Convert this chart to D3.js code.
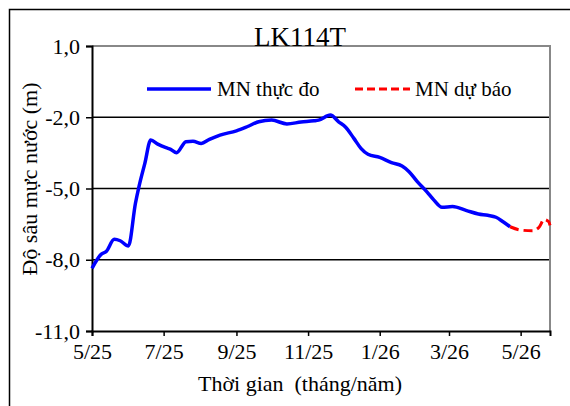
<!DOCTYPE html>
<html>
<head>
<meta charset="utf-8">
<script src="https://cdn.jsdelivr.net/npm/d3@7"></script>
<style>
  body { margin: 0; background: #fff; }
  text { font-family: "Liberation Serif", "Times New Roman", serif; fill: #000; }
</style>
</head>
<body>
<div id="chart"></div>
<script>
// Observed water level (MN thực đo)
const obsDates = ["2025-05-01","2025-05-09","2025-05-13","2025-05-20","2025-05-25","2025-06-01",
  "2025-06-07","2025-06-10","2025-06-15","2025-06-20","2025-06-26","2025-07-03","2025-07-07",
  "2025-07-12","2025-07-20","2025-07-26","2025-08-02","2025-08-09","2025-08-18","2025-09-01",
  "2025-09-10","2025-09-20","2025-10-01","2025-10-14","2025-10-26","2025-11-06","2025-11-10",
  "2025-11-20","2025-11-27","2025-12-03","2025-12-10","2025-12-16","2025-12-22","2026-01-01",
  "2026-01-11","2026-01-20","2026-01-26","2026-02-02","2026-02-10","2026-02-16","2026-02-23",
  "2026-03-04","2026-03-16","2026-03-26","2026-04-03","2026-04-10","2026-04-16","2026-04-22"];
const obsValues = [-8.36,-7.76,-7.66,-7.14,-7.2,-7.42,
  -5.62,-4.92,-3.94,-2.96,-3.13,-3.28,-3.35,
  -3.49,-3.03,-3.01,-3.10,-2.93,-2.75,-2.57,
  -2.40,-2.19,-2.12,-2.28,-2.2,-2.15,-2.12,
  -1.91,-2.19,-2.42,-2.89,-3.31,-3.56,-3.69,
  -3.91,-4.05,-4.29,-4.71,-5.13,-5.48,-5.79,
  -5.76,-5.93,-6.07,-6.13,-6.21,-6.40,-6.61];

// Forecast (MN dự báo)
const fcDates = ["2026-04-22","2026-05-01","2026-05-11","2026-05-17","2026-05-21","2026-05-25","2026-05-26"];
const fcValues = [-6.61,-6.75,-6.78,-6.61,-6.30,-6.40,-6.55];

const yTicks = [1, -2, -5, -8, -11];
const xTickLabels = ["5/25","7/25","9/25","11/25","1/26","3/26","5/26"];
const xTickDates = ["2025-05-01","2025-07-01","2025-09-01","2025-11-01","2026-01-01","2026-03-01","2026-05-01"];

const W = 570, H = 406;
const margin = {top: 46, right: 20, bottom: 75, left: 92};
const parse = d3.utcParse("%Y-%m-%d");

const svg = d3.select("#chart").append("svg")
  .attr("width", W).attr("height", H);

// outer frame
svg.append("rect")
  .attr("x", 9.5).attr("y", 9.5)
  .attr("width", W + 20).attr("height", H + 20)
  .attr("fill", "none").attr("stroke", "#000").attr("stroke-width", 1.5);

const x = d3.scaleUtc()
  .domain([parse("2025-05-01"), parse("2026-05-26")])
  .range([margin.left, W - margin.right]);
const y = d3.scaleLinear()
  .domain([-11, 1])
  .range([H - margin.bottom, margin.top]);

// gridlines
svg.append("g").selectAll("line")
  .data(yTicks.filter(d => d > -11 && d < 1))
  .join("line")
  .attr("x1", x.range()[0]).attr("x2", x.range()[1])
  .attr("y1", d => y(d)).attr("y2", d => y(d))
  .attr("stroke", "#000").attr("stroke-width", 1.5);

// top & right border (gray)
svg.append("path")
  .attr("d", `M${x.range()[0]},${y(1)}H${x.range()[1]}V${y(-11)}`)
  .attr("fill", "none").attr("stroke", "#888").attr("stroke-width", 2);

// y axis
const yAxis = svg.append("g")
  .attr("transform", `translate(${x.range()[0]},0)`)
  .call(d3.axisLeft(y).tickValues(yTicks).tickSize(6).tickPadding(6)
    .tickFormat(d => d3.format(".1f")(d).replace(".", ",").replace("−", "-")));
yAxis.select(".domain").attr("stroke", "#000").attr("stroke-width", 2);
yAxis.selectAll(".tick line").attr("stroke-width", 1.5);
yAxis.selectAll("text").style("font-size", "22px");

// x axis
const xAxis = svg.append("g")
  .attr("transform", `translate(0,${y(-11)})`)
  .call(d3.axisBottom(x).tickValues(xTickDates.map(parse)).tickSize(5).tickPadding(7)
    .tickFormat((d, i) => xTickLabels[i]));
xAxis.select(".domain").attr("stroke", "#000").attr("stroke-width", 2);
xAxis.selectAll(".tick line").attr("stroke-width", 1.5);
xAxis.selectAll("text").style("font-size", "22px");

const line = d3.line()
  .x(d => x(d[0]))
  .y(d => y(d[1]))
  .curve(d3.curveMonotoneX);

const obs = obsDates.map((d, i) => [parse(d), obsValues[i]]);
const fc = fcDates.map((d, i) => [parse(d), fcValues[i]]);

svg.append("path").datum(obs)
  .attr("d", line)
  .attr("fill", "none").attr("stroke", "#0000ff").attr("stroke-width", 3.5)
  .attr("stroke-linejoin", "round");

svg.append("path").datum(fc)
  .attr("d", line)
  .attr("fill", "none").attr("stroke", "#ff0000").attr("stroke-width", 3)
  .attr("stroke-dasharray", "9,5");

// legend
const legend = svg.append("g");
legend.append("line")
  .attr("x1", 147).attr("x2", 211).attr("y1", 89).attr("y2", 89)
  .attr("stroke", "#0000ff").attr("stroke-width", 3.5);
legend.append("text")
  .attr("x", 217).attr("y", 96)
  .style("font-size", "21px")
  .text("MN thực đo");
legend.append("line")
  .attr("x1", 355).attr("x2", 410).attr("y1", 89).attr("y2", 89)
  .attr("stroke", "#ff0000").attr("stroke-width", 3)
  .attr("stroke-dasharray", "8,4");
legend.append("text")
  .attr("x", 415).attr("y", 96)
  .style("font-size", "21px")
  .text("MN dự báo");

// title
svg.append("text")
  .attr("x", 300).attr("y", 46)
  .attr("text-anchor", "middle")
  .style("font-size", "27px")
  .text("LK114T");

// axis titles
svg.append("text")
  .attr("x", 300).attr("y", 391)
  .attr("text-anchor", "middle")
  .style("font-size", "22px")
  .style("white-space", "pre")
  .text("Thời gian  (tháng/năm)");

svg.append("text")
  .attr("transform", `translate(37,179) rotate(-90)`)
  .attr("text-anchor", "middle")
  .style("font-size", "22px")
  .text("Độ sâu mực nước (m)");
</script>
</body>
</html>
